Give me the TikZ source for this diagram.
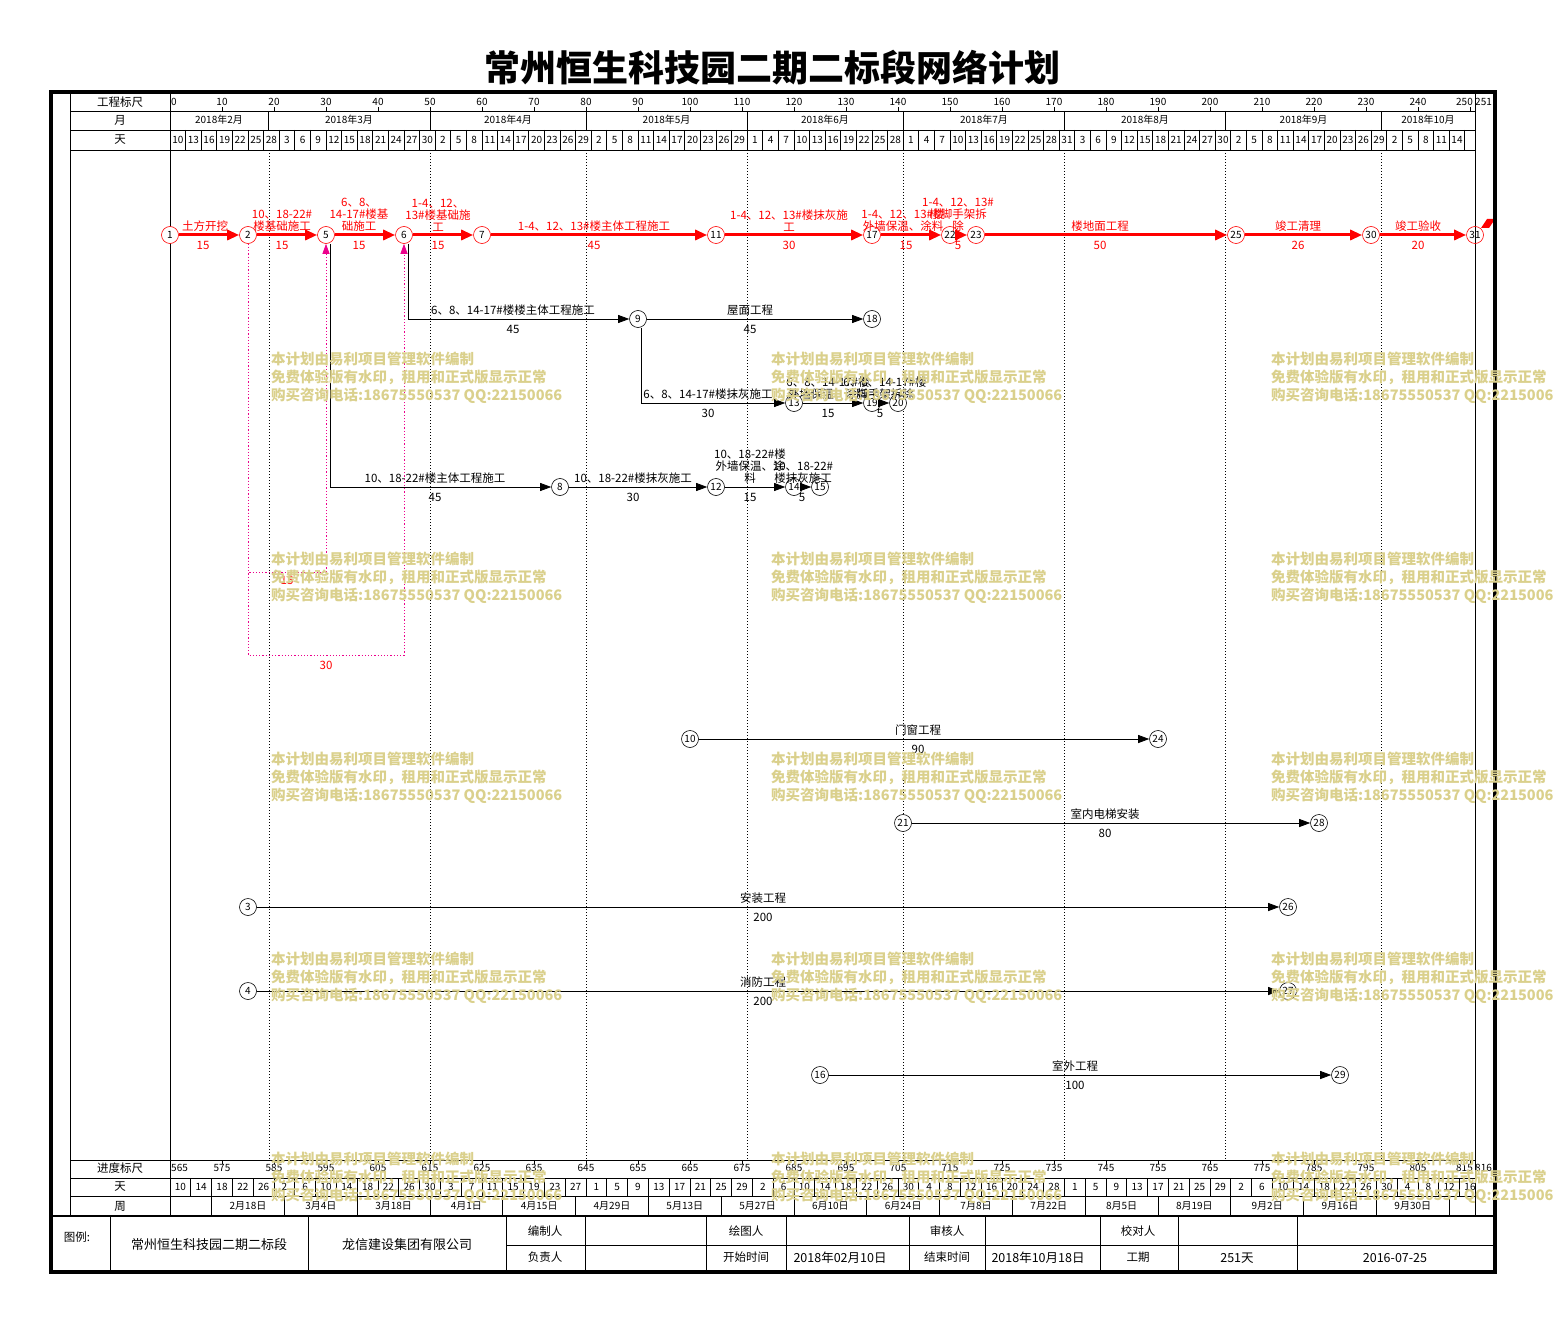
\documentclass[tikz,border=0pt]{standalone}
\usepackage{fontspec}
\setmainfont{Noto Sans CJK SC}
\usetikzlibrary{arrows.meta}
\newcommand\setfs[2]{\fontsize{#1}{#2}\selectfont}
\definecolor{wmc}{RGB}{218,208,140}

\tikzset{
  ev/.style={circle,draw,fill=white,line width=0.6pt,minimum size=17pt,inner sep=0pt,font=\setfs{10}{10}},
  evr/.style={ev,draw=red},
  crit/.style={red,line width=3pt,-{Triangle[length=12pt,width=10pt]}},
  act/.style={black,line width=0.75pt,-{Triangle[length=11pt,width=8pt]}},
  dum/.style={magenta,line width=0.9pt,dash pattern=on 1.2pt off 2pt,-{Triangle[length=10pt,width=7pt]}},
  gl/.style={black,line width=0.6pt,dash pattern=on 1pt off 2pt},
  tx/.style={inner sep=0pt,align=center,font=\setfs{11.5}{12}},
  rtx/.style={tx,text=red},
  hd/.style={inner sep=0pt,font=\setfs{10}{10}},
  ft/.style={inner sep=0pt,font=\setfs{11.5}{12}},
  wm/.style={inner sep=0pt,align=left,anchor=north west,text=wmc,font=\setfs{14.5}{18}\bfseries},
}

\begin{document}
\begin{tikzpicture}[x=1pt,y=-1pt]
	\useasboundingbox (0,0) rectangle (1554,1321);
	\clip (0,0) rectangle (1554,1321);
	
	\node[font=\setfs{36}{40}\bfseries] (title) at (772,68) {常州恒生科技园二期二标段网络计划};
	
	% table lines
	\draw[line width=0.7pt] (70,92) -- (70,1216) (170,92) -- (170,1216) (1475,92) -- (1475,1216);
	\foreach \y in {111,130,150,1160,1178,1196}
		\draw[line width=0.7pt] (70,\y) -- (1475,\y);
	\foreach \x in {268.8,430,586,747.2,903.2,1064.4,1225.6,1381.6}{
		\draw[line width=0.7pt] (\x,111) -- (\x,130);
		\draw[gl] (\x,150) -- (\x,1160);
	}
	\foreach \i in {1,...,83}
		\draw[line width=0.7pt] (170+15.6*\i,130) -- (170+15.6*\i,150);
	\foreach \i in {1,...,62}
		\draw[line width=0.7pt] (170+20.8*\i,1178) -- (170+20.8*\i,1196);
	\foreach \i in {0,...,17}
		\draw[line width=0.7pt] (211.6+72.8*\i,1196) -- (211.6+72.8*\i,1216);
	\foreach \d in {10,20,...,250}{
		\draw[line width=0.7pt] (170+5.2*\d,111) -- (170+5.2*\d,107);
		\draw[line width=0.7pt] (170+5.2*\d,1160) -- (170+5.2*\d,1164);
	}
	
	% left column
	\node[ft] (h1) at (120,102) {工程标尺};
	\node[ft] (h2) at (120,120) {月};
	\node[ft] (h3) at (120,140) {天};
	\node[ft] (h4) at (120,1168) {进度标尺};
	\node[ft] (h5) at (120,1187) {天};
	\node[ft] (h6) at (120,1206) {周};
	
	% scales
	\node[hd,anchor=west] (sc0) at (171,102) {0};
	\foreach \d in {10,20,...,240}
		\node[hd] (sc\d) at (170+5.2*\d,102) {\d};
	\node[hd,anchor=east] (sc250) at (1473,102) {250};
	\node[hd,anchor=west] (sc251) at (1475,102) {251};
	\node[hd,anchor=west] (pg0) at (171,1168) {565};
	\foreach \d in {10,20,...,240}{
		\pgfmathtruncatemacro\pv{565+\d}
		\node[hd] (pg\d) at (170+5.2*\d,1168) {\pv};
	}
	\node[hd,anchor=east] (pg250) at (1473,1168) {815};
	\node[hd,anchor=west] (pg251) at (1475,1168) {816};
	
	\foreach \m/\x in {2/219,3/349,4/508,5/666.6,6/825,7/984,8/1145,9/1303.6,10/1428}
		\node[hd] (mo\m) at (\x,120) {2018年{\m}月};
	\foreach \t [count=\i from 0] in {10,13,16,19,22,25,28,3,6,9,12,15,18,21,24,27,30,2,5,8,11,14,17,20,23,26,29,2,5,8,11,14,17,20,23,26,29,1,4,7,10,13,16,19,22,25,28,1,4,7,10,13,16,19,22,25,28,31,3,6,9,12,15,18,21,24,27,30,2,5,8,11,14,17,20,23,26,29,2,5,8,11,14}
		\node[hd] (da\i) at (177.8+15.6*\i,140) {\t};
	\foreach \t [count=\i from 0] in {10,14,18,22,26,2,6,10,14,18,22,26,30,3,7,11,15,19,23,27,1,5,9,13,17,21,25,29,2,6,10,14,18,22,26,30,4,8,12,16,20,24,28,1,5,9,13,17,21,25,29,2,6,10,14,18,22,26,30,4,8,12,16}
		\node[hd] (db\i) at (180.4+20.8*\i,1187) {\t};
	\foreach \t [count=\i from 0] in {2月18日,3月4日,3月18日,4月1日,4月15日,4月29日,5月13日,5月27日,6月10日,6月24日,7月8日,7月22日,8月5日,8月19日,9月2日,9月16日,9月30日}
		\node[hd] (wk\i) at (248+72.8*\i,1206) {\t};
	
	% dummy links
	\coordinate (k1) at (287,572);
	\coordinate (k2) at (326,655);
	
	% events
	\node[evr] (n1) at (170,235) {1};
	\node[evr] (n2) at (248,235) {2};
	\node[evr] (n5) at (326,235) {5};
	\node[evr] (n6) at (404,235) {6};
	\node[evr] (n7) at (482,235) {7};
	\node[evr] (n11) at (716,235) {11};
	\node[evr] (n17) at (872,235) {17};
	\node[evr] (n22) at (950,235) {22};
	\node[evr] (n23) at (976,235) {23};
	\node[evr] (n25) at (1236,235) {25};
	\node[evr] (n30) at (1371,235) {30};
	\node[evr,fill=none] (n31) at (1475,235) {31};
	\node[ev] (n9) at (638,319) {9};
	\node[ev] (n18) at (872,319) {18};
	\node[ev] (n13) at (794,403) {13};
	\node[ev] (n19) at (872,403) {19};
	\node[ev] (n20) at (898,403) {20};
	\node[ev] (n8) at (560,487) {8};
	\node[ev] (n12) at (716,487) {12};
	\node[ev] (n14) at (794,487) {14};
	\node[ev] (n15) at (820,487) {15};
	\node[ev] (n10) at (690,739) {10};
	\node[ev] (n24) at (1158,739) {24};
	\node[ev] (n21) at (903,823) {21};
	\node[ev] (n28) at (1319,823) {28};
	\node[ev] (n3) at (248,907) {3};
	\node[ev] (n26) at (1288,907) {26};
	\node[ev] (n4) at (248,991) {4};
	\node[ev] (n27) at (1288,991) {27};
	\node[ev] (n16) at (820,1075) {16};
	\node[ev] (n29) at (1340,1075) {29};
	
	% critical path
	\draw[crit] (n1) -- (n2);
	\draw[crit] (n2) -- (n5);
	\draw[crit] (n5) -- (n6);
	\draw[crit] (n6) -- (n7);
	\draw[crit] (n7) -- (n11);
	\draw[crit] (n11) -- (n17);
	\draw[crit] (n17) -- (n22);
	\draw[crit] (n22) -- (n23);
	\draw[crit] (n23) -- (n25);
	\draw[crit] (n25) -- (n30);
	\draw[crit] (n30) -- (n31);
	\fill[red] (1481,228) -- (1487,219) -- (1495,219) -- (1489,228) -- cycle;
	
	\node[rtx,anchor=south] (t1) at (205,232) {土方开挖};
	\node[rtx] (u1) at (203,245) {15};
	\node[rtx,anchor=south] (t2) at (282,232) {10、18-22\#\\楼基础施工};
	\node[rtx] (u2) at (282,245) {15};
	\node[rtx,anchor=south] (t5) at (359,232) {6、8、\\14-17\#楼基\\础施工};
	\node[rtx] (u5) at (359,245) {15};
	\node[rtx,anchor=south] (t6) at (438,232) {1-4、12、\\13\#楼基础施\\工};
	\node[rtx] (u6) at (438,245) {15};
	\node[rtx,anchor=south] (t7) at (594,232) {1-4、12、13\#楼主体工程施工};
	\node[rtx] (u7) at (594,245) {45};
	\node[rtx,anchor=south] (t11) at (789,232) {1-4、12、13\#楼抹灰施\\工};
	\node[rtx] (u11) at (789,245) {30};
	\node[rtx,anchor=south] (t17) at (903,232) {1-4、12、13\#楼\\外墙保温、涂料};
	\node[rtx] (u17) at (906,245) {15};
	\node[rtx,anchor=south] (t22) at (958,232) {1-4、12、13\#\\楼脚手架拆\\除};
	\node[rtx] (u22) at (958,245) {5};
	\node[rtx,anchor=south] (t23) at (1100,232) {楼地面工程};
	\node[rtx] (u23) at (1100,245) {50};
	\node[rtx,anchor=south] (t25) at (1298,232) {竣工清理};
	\node[rtx] (u25) at (1298,245) {26};
	\node[rtx,anchor=south] (t30) at (1418,232) {竣工验收};
	\node[rtx] (u30) at (1418,245) {20};
	
	% other works
	\draw[act] ([xshift=4pt]n6.south) |- (n9);
	\draw[act] (n9) -- (n18);
	\draw[act] ([xshift=3pt]n9.south) |- (n13);
	\draw[act] (n13) -- (n19);
	\draw[act] (n19) -- (n20);
	\draw[act] ([xshift=4pt]n5.south) |- (n8);
	\draw[act] (n8) -- (n12);
	\draw[act] (n12) -- (n14);
	\draw[act] (n14) -- (n15);
	\draw[act] (n10) -- (n24);
	\draw[act] (n21) -- (n28);
	\draw[act] (n3) -- (n26);
	\draw[act] (n4) -- (n27);
	\draw[act] (n16) -- (n29);
	
	\node[tx,anchor=south] (t9) at (513,316) {6、8、14-17\#楼楼主体工程施工};
	\node[tx] (u9) at (513,329) {45};
	\node[tx,anchor=south] (t18) at (750,316) {屋面工程};
	\node[tx] (u18) at (750,329) {45};
	\node[tx,anchor=south] (t13) at (708,400) {6、8、14-17\#楼抹灰施工};
	\node[tx] (u13) at (708,413) {30};
	\node[tx,anchor=south] (t19) at (828,400) {6、8、14-17\#楼\\外墙保温、涂料};
	\node[tx] (u19) at (828,413) {15};
	\node[tx,anchor=south] (t20) at (885,400) {6、8、14-17\#楼\\脚手架拆除};
	\node[tx] (u20) at (880,413) {5};
	\node[tx,anchor=south] (t8) at (435,484) {10、18-22\#楼主体工程施工};
	\node[tx] (u8) at (435,497) {45};
	\node[tx,anchor=south] (t12) at (633,484) {10、18-22\#楼抹灰施工};
	\node[tx] (u12) at (633,497) {30};
	\node[tx,anchor=south] (t14) at (750,484) {10、18-22\#楼\\外墙保温、涂\\料};
	\node[tx] (u14) at (750,497) {15};
	\node[tx,anchor=south] (t15) at (803,484) {10、18-22\#\\楼抹灰施工};
	\node[tx] (u15) at (802,497) {5};
	\node[tx,anchor=south] (t24) at (918,736) {门窗工程};
	\node[tx] (u24) at (918,749) {90};
	\node[tx,anchor=south] (t28) at (1105,820) {室内电梯安装};
	\node[tx] (u28) at (1105,833) {80};
	\node[tx,anchor=south] (t26) at (763,904) {安装工程};
	\node[tx] (u26) at (763,917) {200};
	\node[tx,anchor=south] (t27) at (763,988) {消防工程};
	\node[tx] (u27) at (763,1001) {200};
	\node[tx,anchor=south] (t29) at (1075,1072) {室外工程};
	\node[tx] (u29) at (1075,1085) {100};
	
	\draw[dum] (n2) |- (k1) -| (n5);
	\draw[dum] (n2) |- (k2) -| (n6);
	\node[rtx] (v1) at (287,580) {15};
	\node[rtx] (v2) at (326,665) {30};
	
	% footer
	\draw[line width=2pt] (51,1216) -- (1495,1216);
	\foreach \x in {110,308,506,585,706,786,909,985,1100,1178,1297}
		\draw[line width=0.7pt] (\x,1216) -- (\x,1272);
	\draw[line width=0.7pt] (506,1245) -- (1495,1245);
	\draw[line width=4pt] (51,92) rectangle (1495,1272);
	
	\node[ft] (f1) at (77,1237) {图例:};
	\node[ft,font=\setfs{13}{14}] (f2) at (209,1245) {常州恒生科技园二期二标段};
	\node[ft,font=\setfs{13}{14}] (f3) at (407,1245) {龙信建设集团有限公司};
	\node[ft] (f4) at (545,1231) {编制人};
	\node[ft] (f5) at (545,1257) {负责人};
	\node[ft] (f6) at (746,1231) {绘图人};
	\node[ft] (f7) at (746,1257) {开始时间};
	\node[ft,font=\setfs{12.5}{13}] (f8) at (840,1258) {2018年02月10日};
	\node[ft] (f9) at (947,1231) {审核人};
	\node[ft] (f10) at (947,1257) {结束时间};
	\node[ft,font=\setfs{12.5}{13}] (f11) at (1038,1258) {2018年10月18日};
	\node[ft] (f12) at (1138,1231) {校对人};
	\node[ft] (f13) at (1138,1257) {工期};
	\node[ft,font=\setfs{12.5}{13}] (f14) at (1237,1258) {251天};
	\node[ft,font=\setfs{12.5}{13}] (f15) at (1395,1258) {2016-07-25};
	
	% watermark
	\foreach \wx in {271,771,1271}
		\foreach \wy in {352,552,752,952,1152}
			\node[wm] (wm\wx\wy) at (\wx,\wy) {本计划由易利项目管理软件编制\\免费体验版有水印，租用和正式版显示正常\\购买咨询电话:18675550537 QQ:22150066};
	
\end{tikzpicture}
\end{document}
